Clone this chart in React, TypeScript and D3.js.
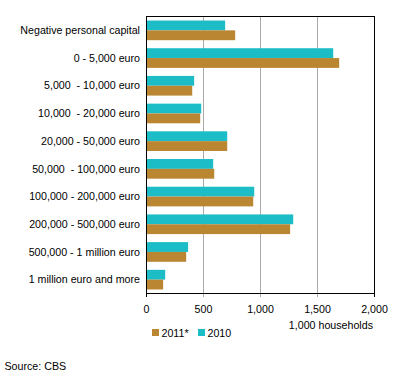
import React from "react";
import * as d3 from "d3";

const categories = [
  "Negative personal capital",
  "0 - 5,000 euro",
  "5,000  - 10,000 euro",
  "10,000  - 20,000 euro",
  "20,000 - 50,000 euro",
  "50,000  - 100,000 euro",
  "100,000 - 200,000 euro",
  "200,000 - 500,000 euro",
  "500,000 - 1 million euro",
  "1 million euro and more",
];
const values2010 = [690, 1638, 418, 480, 708, 585, 945, 1287, 365, 164];
const values2011 = [778, 1690, 401, 471, 708, 594, 936, 1260, 348, 146];
const xTicks = [0, 500, 1000, 1500, 2000];

const W = 396, H = 383;
const left = 146.5, right = 374.5, top = 16.5, bottom = 293.5;
const TEAL = "#1dbdc7";
const ORANGE = "#bb8632";
const FONT = "Liberation Sans, Arial, sans-serif";
const FS = 10.67;
const fmt = d3.format(",");

export default function App() {
  const x = d3.scaleLinear().domain([0, 2000]).range([left, right]);
  const y = d3.scaleBand().domain(categories).range([top, bottom]).paddingInner(0.29).paddingOuter(0.145);
  const bh = y.bandwidth() / 2;
  return (
    <svg width={W} height={H} style={{ position: "absolute", left: 0, top: 0, background: "#fff", whiteSpace: "pre" }} fontFamily={FONT}>
      {xTicks.slice(1, -1).map((t) => (
        <line key={t} x1={x(t)} x2={x(t)} y1={top} y2={bottom + 3.5} stroke="#aaaaaa" strokeWidth={1} />
      ))}
      {categories.map((c, i) => (
        <g key={c}>
          <rect x={x(0)} y={y(c)!} width={x(values2010[i]) - x(0)} height={bh} fill={TEAL} />
          <rect x={x(0)} y={y(c)! + bh} width={x(values2011[i]) - x(0)} height={bh} fill={ORANGE} />
          <text x={140} y={y(c)! + bh} dy="0.35em" textAnchor="end" fontSize={FS} fill="#000" style={{ whiteSpace: "pre" }}>{c}</text>
        </g>
      ))}
      <rect x={left} y={top} width={right - left} height={bottom - top} fill="none" stroke="#000" strokeWidth={1} />
      {[0, 2000].map((t) => (
        <line key={t} x1={x(t)} x2={x(t)} y1={bottom} y2={bottom + 3.5} stroke="#000" strokeWidth={1} />
      ))}
      {xTicks.map((t) => (
        <text key={t} x={x(t)} y={309} dy="0.35em" textAnchor="middle" fontSize={FS}>{fmt(t)}</text>
      ))}
      <text x={373} y={325.5} dy="0.35em" textAnchor="end" fontSize={FS}>1,000 households</text>
      <rect x={152} y={329} width={7} height={7} fill={ORANGE} />
      <text x={161.5} y={333} dy="0.35em" fontSize={FS}>2011*</text>
      <rect x={198} y={329} width={7} height={7} fill={TEAL} />
      <text x={207.5} y={333} dy="0.35em" fontSize={FS}>2010</text>
      <text x={4.5} y={366} dy="0.35em" fontSize={FS}>Source: CBS</text>
    </svg>
  );
}
